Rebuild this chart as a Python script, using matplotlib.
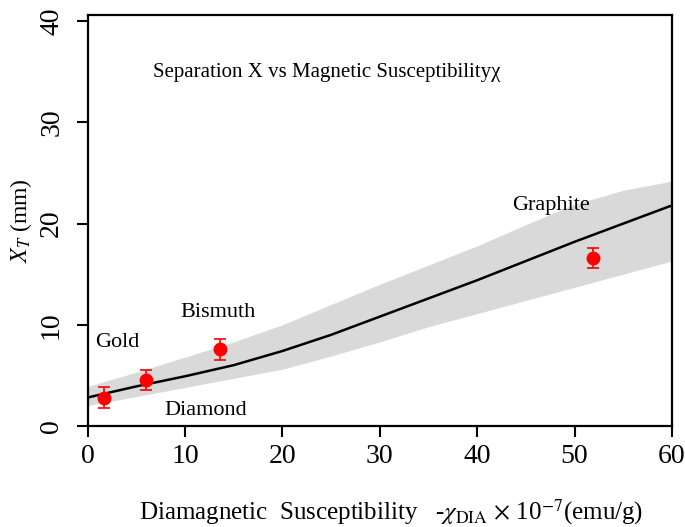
import numpy as np
import matplotlib.pyplot as plt

plt.rcParams["font.family"] = "Liberation Serif"
plt.rcParams["mathtext.fontset"] = "stix"

# theory curve and its uncertainty band
curve_x = [0, 5, 10, 15, 20, 25, 30, 35, 40, 45, 50, 55, 60]
curve_y = [2.8, 3.9, 4.9, 6.0, 7.4, 9.0, 10.8, 12.6, 14.4, 16.3, 18.2, 20.0, 21.8]
band_x = [0, 5, 10, 15, 20, 25, 30, 35, 40, 45, 50, 55, 60]
band_hi = [3.9, 5.3, 6.8, 8.3, 10.0, 12.0, 14.0, 15.9, 17.8, 19.9, 21.9, 23.3, 24.2]
band_lo = [2.0, 2.9, 3.8, 4.7, 5.6, 6.9, 8.3, 9.8, 11.1, 12.4, 13.7, 15.0, 16.3]

# measured points
names = ["Gold", "Diamond", "Bismuth", "Graphite"]
meas_x = [1.7, 6.0, 13.6, 51.9]
meas_y = [2.8, 4.5, 7.55, 16.6]
meas_err = [1.0, 1.0, 1.0, 1.0]

fig = plt.figure(figsize=(6.85, 5.27), dpi=100)
ax = fig.add_axes([0.128, 0.192, 0.853, 0.779])

ax.fill_between(band_x, band_lo, band_hi, color="#d9d9d9", lw=0, zorder=1)
ax.plot(curve_x, curve_y, color="black", lw=1.8, zorder=2)
ax.errorbar(meas_x, meas_y, yerr=meas_err, fmt="o", color="red", ms=9,
            elinewidth=1.2, capsize=4.5, capthick=1.2, zorder=3)

ax.text(0.8, 8.2, "Gold", fontsize=16, va="center")
ax.text(7.9, 1.55, "Diamond", fontsize=16, va="center")
ax.text(9.5, 11.2, "Bismuth", fontsize=16, va="center")
ax.text(43.6, 21.8, "Graphite", fontsize=16, va="center")
ax.text(6.7, 34.9, "Separation X vs Magnetic Susceptibility\u03c7", fontsize=15, va="center")

ax.set_xlim(0, 60)
ax.set_ylim(0, 40.6)
ax.set_xticks([0, 10, 20, 30, 40, 50, 60])
ax.set_yticks([0, 10, 20, 30, 40])
ax.tick_params(direction="out", length=8, width=1.5, labelsize=20)
ax.tick_params(axis="x", pad=5)
ax.tick_params(axis="y", labelrotation=90, pad=9)
for lab in ax.get_yticklabels():
    lab.set_va("center")
for s in ax.spines.values():
    s.set_linewidth(1.6)

ax.set_xlabel(r"Diamagnetic  Susceptibility   -$\chi_{\rm DIA}$ $\times$ 10$^{-7}$(emu/g)",
              fontsize=18)
ax.xaxis.set_label_coords(0.52, -0.175)
ax.set_ylabel(r"$X_T$ (mm)", fontsize=17, labelpad=4)

fig.savefig("out.png", dpi=100)
